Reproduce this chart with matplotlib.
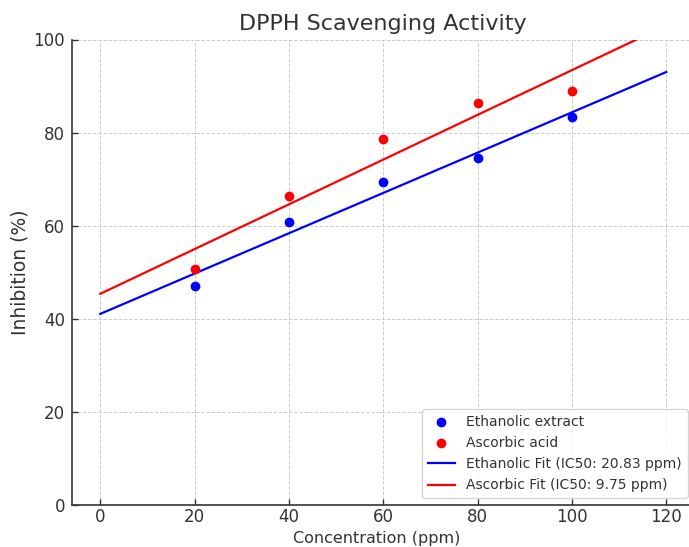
import numpy as np
import matplotlib
matplotlib.use("Agg")
import matplotlib.pyplot as plt

# Dados
concentracao = [20, 40, 60, 80, 100]
etanolico = [47.0, 60.8, 69.4, 74.6, 83.4]
ascorbico = [50.8, 66.4, 78.6, 86.3, 88.9]
x_ajuste = [0, 120]

label_etanolico = "Ethanolic extract"
label_ascorbico = "Ascorbic acid"
label_fit_eta = "Ethanolic Fit (IC50: 20.83 ppm)"
label_fit_asc = "Ascorbic Fit (IC50: 9.75 ppm)"

texto = "#333333"
plt.rcParams["font.family"] = "DejaVu Sans"
plt.rcParams["text.color"] = texto
plt.rcParams["axes.labelcolor"] = texto
plt.rcParams["xtick.color"] = texto
plt.rcParams["ytick.color"] = texto

fig = plt.figure(figsize=(6.89, 5.47), dpi=100)
W, H = 689, 547
# eixo ultrapassa a borda direita (imagem original recortada)
ax_w = 694.6 - 72
ax_h = 505 - 39.5
ax = fig.add_axes([72 / W, (H - 505) / H, ax_w / W, ax_h / H])

# Ajuste linear de cada série
p_eta = np.polyfit(concentracao, etanolico, 1)
p_asc = np.polyfit(concentracao, ascorbico, 1)
xx = np.linspace(x_ajuste[0], x_ajuste[1], 100)

ax.scatter(concentracao, etanolico, color="blue", s=36, label=label_etanolico, zorder=3)
ax.scatter(concentracao, ascorbico, color="red", s=36, label=label_ascorbico, zorder=3)
ax.plot(xx, np.polyval(p_eta, xx), color="blue", lw=1.6, label=label_fit_eta)
ax.plot(xx, np.polyval(p_asc, xx), color="red", lw=1.6, label=label_fit_asc)

ax.set_xlim(-6, 126)
ax.set_ylim(0, 100)
ax.set_xticks([0, 20, 40, 60, 80, 100, 120])
ax.set_yticks([0, 20, 40, 60, 80, 100])

ax.set_title("DPPH Scavenging Activity", fontsize=16, pad=7)
ax.set_xlabel("Concentration (ppm)", fontsize=11.5)
# rótulo do eixo x encostado na borda de baixo, sem sair da figura
ax.xaxis.label.set_va("bottom")
ax.xaxis.set_label_coords(0.5 - 6.6 / ax_w, -(546.5 - 505) / ax_h)
ax.set_ylabel("Inhibition (%)", fontsize=13.5, labelpad=3)

ax.tick_params(direction="in", labelsize=12, length=4, width=1)
ax.tick_params(axis="x", pad=2.5)
ax.tick_params(axis="y", pad=5)
ax.grid(True, linestyle="--", color="#cccccc", linewidth=0.7)
ax.set_axisbelow(True)
for lado in ["top", "right"]:
    ax.spines[lado].set_visible(False)
for lado in ["left", "bottom"]:
    ax.spines[lado].set_color("#333333")
    ax.spines[lado].set_linewidth(1.2)

ax.legend(loc="lower right", fontsize=10, labelspacing=0.52, frameon=True,
          edgecolor="#cccccc")

fig.savefig("out.png", dpi=100)
